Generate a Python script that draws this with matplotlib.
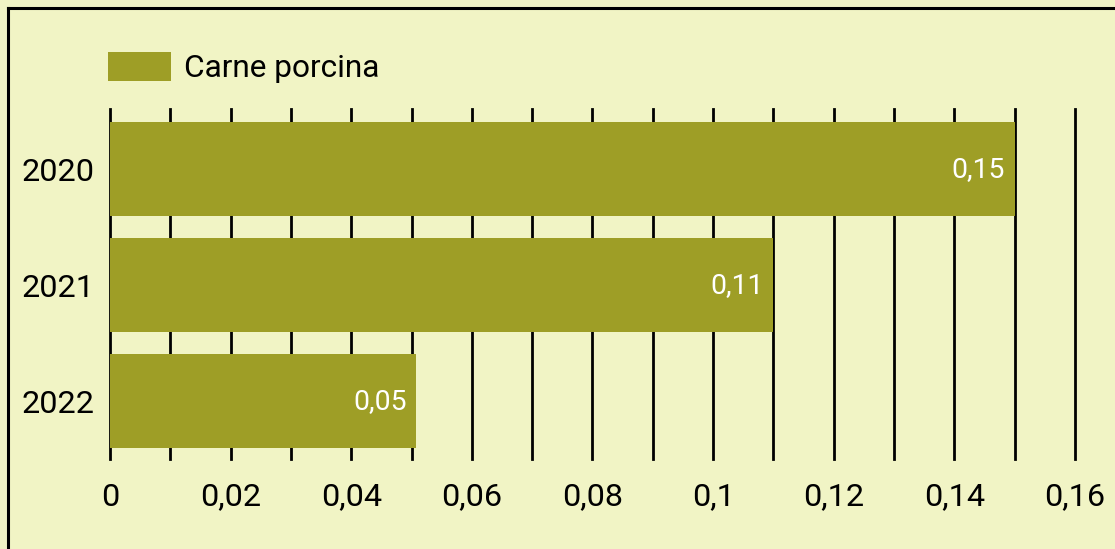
import matplotlib
matplotlib.use('Agg')

import numpy as np
import matplotlib.pyplot as plt
from matplotlib.lines import Line2D

# data
years = ["2020", "2021", "2022"]
values = [0.15, 0.11, 0.0508]
series_name = "Carne porcina"
xticks = [0, 0.02, 0.04, 0.06, 0.08, 0.1, 0.12, 0.14, 0.16]
xticklabels = ["0", "0,02", "0,04", "0,06", "0,08", "0,1", "0,12", "0,14", "0,16"]

BG = '#f1f4c5'
BAR = '#9e9e26'

plt.rcParams['font.family'] = ['Roboto', 'DejaVu Sans']

W, H = 1115, 549
fig = plt.figure(figsize=(W / 100, H / 100), dpi=100, facecolor=BG)
ax = fig.add_axes([110 / W, 1 - 459 / H, (1075 - 110) / W, (459 - 109) / H])
ax.set_facecolor(BG)

# vertical grid every 0.01
for g in np.arange(0, 0.1601, 0.01):
    ax.axvline(g, color='black', lw=2, zorder=1, clip_on=False)

ypos = np.arange(len(years))
bars = ax.barh(ypos, values, height=0.81, color=BAR, zorder=2, label=series_name)

for y, v in zip(ypos, values):
    ax.annotate(("%.2f" % v).replace('.', ','), (v, y), xytext=(-7, 0),
                textcoords='offset points', ha='right', va='center',
                color='white', fontsize=20.4, zorder=3)

ax.set_xlim(0, 0.16)
ax.set_ylim(len(years) - 0.5, -0.52)
ax.set_yticks(ypos)
ax.set_yticklabels(years, fontsize=23.3)
ax.set_xticks(xticks)
ax.set_xticklabels(xticklabels, fontsize=23.3)
ax.tick_params(axis='both', length=0)
ax.tick_params(axis='x', pad=17)
ax.tick_params(axis='y', pad=11)
for s in ax.spines.values():
    s.set_visible(False)

ax.legend(loc='center left', bbox_to_anchor=(108 / W, 1 - 67.5 / H),
          bbox_transform=fig.transFigure, frameon=False, fontsize=22.8,
          handlelength=2.0, handleheight=1.05, handletextpad=0.4,
          borderpad=0, borderaxespad=0)

# outer frame (left and top edges visible)
fig.add_artist(Line2D([8 / W, 8 / W], [0, 1 - 8 / H], color='black', lw=2.2,
                      transform=fig.transFigure))
fig.add_artist(Line2D([8 / W, 1], [1 - 8 / H, 1 - 8 / H], color='black', lw=2.2,
                      transform=fig.transFigure))

fig.savefig('out.png', dpi=100, facecolor=BG)
